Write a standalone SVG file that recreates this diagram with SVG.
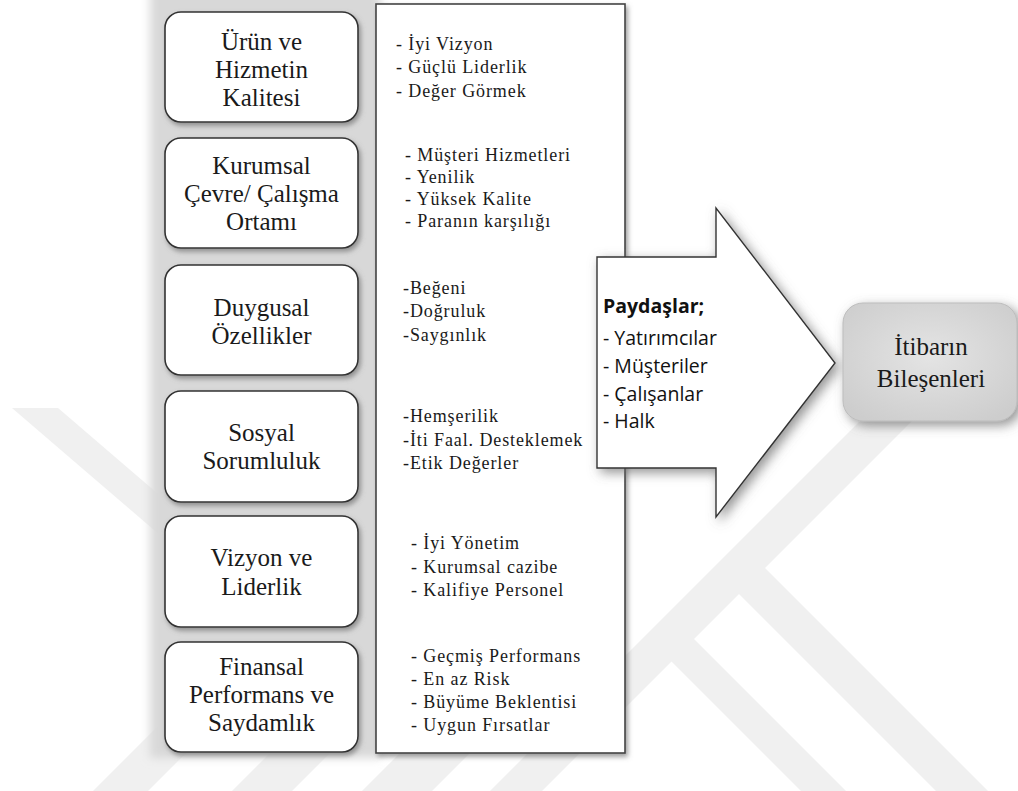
<svg xmlns="http://www.w3.org/2000/svg" width="1018" height="791" viewBox="0 0 1018 791">
  <defs>
    <style>
      .wm{fill:#f0f0f0}
      .box{fill:#fff;stroke:#333;stroke-width:1.6}
      .title{font-size:25px;fill:#1a1a1a;text-anchor:middle}
      .item{font-size:18px;letter-spacing:0.9px;fill:#1a1a1a}
      .stake{font-size:19.5px;fill:#111}
    </style>
    <filter id="blur" x="-10%" y="-5%" width="120%" height="110%">
      <feGaussianBlur stdDeviation="5"/>
    </filter>
    <filter id="boxShadow" x="-10%" y="-10%" width="125%" height="130%">
      <feDropShadow dx="2" dy="3" stdDeviation="2.5" flood-color="#6f6f6f" flood-opacity="0.7"/>
    </filter>
    <filter id="arrowShadow" x="-20%" y="-20%" width="150%" height="150%">
      <feDropShadow dx="4" dy="4" stdDeviation="6" flood-color="#666" flood-opacity="0.7"/>
    </filter>
    <radialGradient id="outFill" cx="50%" cy="45%" r="65%">
      <stop offset="0" stop-color="#e4e4e4"/>
      <stop offset="1" stop-color="#cdcdcd"/>
    </radialGradient>
  </defs>

  <rect width="1018" height="791" fill="#fff"/>

  <!-- faint background emblem -->
  <g id="emblem">
    <polygon class="wm" points="12,408 58,408 235,560 189,560"/>
    <polygon class="wm" points="93,791 148,791 248,691 193,691"/>
    <polygon class="wm" points="232,791 292,791 372,711 312,711"/>
    <polygon class="wm" points="362,791 432,791 512,711 442,711"/>
    <polygon class="wm" points="490,791 542,791 913,420 861,420"/>
    <polygon class="wm" points="668,613 846,791 801,791 671,661"/>
    <polygon class="wm" points="713,568 765,568 988,791 936,791"/>
  </g>

  <!-- grey backing column -->
  <rect x="150" y="-20" width="230" height="778" fill="#d8d8d8" filter="url(#blur)"/>

  <!-- list panel -->
  <g id="details" font-family="'Liberation Serif', serif">
    <rect x="376" y="4" width="249" height="749" fill="#fff" stroke="#444" stroke-width="1.6" filter="url(#boxShadow)"/>
    <text class="item" x="396" y="50">- İyi Vizyon</text>
    <text class="item" x="396" y="73">- Güçlü Liderlik</text>
    <text class="item" x="396" y="97">- Değer Görmek</text>

    <text class="item" x="405" y="161">- Müşteri Hizmetleri</text>
    <text class="item" x="405" y="183">- Yenilik</text>
    <text class="item" x="405" y="205">- Yüksek Kalite</text>
    <text class="item" x="405" y="227">- Paranın karşılığı</text>

    <text class="item" x="403" y="294">-Beğeni</text>
    <text class="item" x="403" y="317">-Doğruluk</text>
    <text class="item" x="403" y="341">-Saygınlık</text>

    <text class="item" x="403" y="422">-Hemşerilik</text>
    <text class="item" x="403" y="446">-İti Faal. Desteklemek</text>
    <text class="item" x="403" y="469">-Etik Değerler</text>

    <text class="item" x="411" y="549">- İyi Yönetim</text>
    <text class="item" x="411" y="573">- Kurumsal cazibe</text>
    <text class="item" x="411" y="596">- Kalifiye Personel</text>

    <text class="item" x="411" y="662">- Geçmiş Performans</text>
    <text class="item" x="411" y="685">- En az Risk</text>
    <text class="item" x="411" y="708">- Büyüme Beklentisi</text>
    <text class="item" x="411" y="731">- Uygun Fırsatlar</text>
  </g>

  <!-- factor boxes -->
  <g id="factors" font-family="'Liberation Serif', serif">
    <g id="quality">
      <rect class="box" x="165" y="12" width="193" height="110" rx="16" filter="url(#boxShadow)"/>
      <text class="title" x="261.5" y="50">Ürün ve</text>
      <text class="title" x="261.5" y="78">Hizmetin</text>
      <text class="title" x="261.5" y="106">Kalitesi</text>
    </g>
    <g id="workplace">
      <rect class="box" x="165" y="138" width="193" height="110" rx="16" filter="url(#boxShadow)"/>
      <text class="title" x="261.5" y="174">Kurumsal</text>
      <text class="title" x="261.5" y="202">Çevre/ Çalışma</text>
      <text class="title" x="261.5" y="230">Ortamı</text>
    </g>
    <g id="emotional">
      <rect class="box" x="165" y="265" width="193" height="110" rx="16" filter="url(#boxShadow)"/>
      <text class="title" x="261.5" y="316">Duygusal</text>
      <text class="title" x="261.5" y="344">Özellikler</text>
    </g>
    <g id="social">
      <rect class="box" x="165" y="391" width="193" height="111" rx="16" filter="url(#boxShadow)"/>
      <text class="title" x="261.5" y="441">Sosyal</text>
      <text class="title" x="261.5" y="469">Sorumluluk</text>
    </g>
    <g id="vision">
      <rect class="box" x="165" y="516" width="193" height="111" rx="16" filter="url(#boxShadow)"/>
      <text class="title" x="261.5" y="566">Vizyon ve</text>
      <text class="title" x="261.5" y="595">Liderlik</text>
    </g>
    <g id="financial">
      <rect class="box" x="165" y="642" width="193" height="110" rx="16" filter="url(#boxShadow)"/>
      <text class="title" x="261.5" y="675">Finansal</text>
      <text class="title" x="261.5" y="703">Performans ve</text>
      <text class="title" x="261.5" y="731">Saydamlık</text>
    </g>
  </g>

  <!-- stakeholder arrow -->
  <g id="connectors">
    <polygon points="597,257 716,257 716,208 835,363 716,517 716,468 597,468" fill="#fff" stroke="#333" stroke-width="1.4" stroke-linejoin="miter" filter="url(#arrowShadow)"/>
  </g>
  <g id="stakeholders" font-family="'Open Sans', 'Liberation Sans', sans-serif">
    <text class="stake" x="603" y="313" font-weight="700" font-size="18.5">Paydaşlar;</text>
    <text class="stake" x="603" y="345">- Yatırımcılar</text>
    <text class="stake" x="603" y="373">- Müşteriler</text>
    <text class="stake" x="603" y="401">- Çalışanlar</text>
    <text class="stake" x="603" y="428">- Halk</text>
  </g>

  <!-- outcome -->
  <g id="reputation" font-family="'Liberation Serif', serif">
    <rect x="843" y="303" width="174" height="118" rx="20" fill="url(#outFill)" stroke="#bdbdbd" stroke-width="1" filter="url(#arrowShadow)"/>
    <text class="title" x="931" y="355">İtibarın</text>
    <text class="title" x="931" y="387">Bileşenleri</text>
  </g>
</svg>
